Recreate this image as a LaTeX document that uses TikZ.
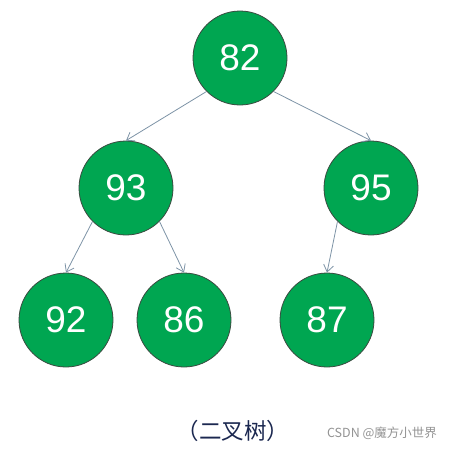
\documentclass[tikz,border=0pt]{standalone}
\usepackage{fontspec}
\setmainfont{Liberation Sans}
\newfontfamily\cjkfont{Noto Sans CJK SC}
\usepackage{tikz}
\usetikzlibrary{arrows.meta,
                positioning}

\definecolor{nodegreen}{HTML}{00A651}
\definecolor{rimgray}{HTML}{3A4A40}
\definecolor{edgegray}{HTML}{7D93A6}
\definecolor{capblue}{HTML}{1B2850}

\begin{document}
\begin{tikzpicture}[x=1pt,y=-1pt,
  treenode/.style={circle,draw=rimgray,line width=0.8pt,fill=nodegreen,
    minimum size=94pt,inner sep=0pt,text=white,font=\fontsize{37}{37}\selectfont},
  treeedge/.style={draw=edgegray,line width=0.8pt,
    -{Straight Barb[length=7pt,width=10pt]}}]
\useasboundingbox (0,0) rectangle (454,450);

\node[treenode] (n82) at (240,58) {82};
\node[treenode] (n93) at (126,188) {93};
\node[treenode] (n95) at (371,188) {95};
\node[treenode] (n92) at (66,320) {92};
\node[treenode] (n86) at (184,320) {86};
\node[treenode] (n87) at (327,320) {87};

\foreach \a/\b/\s in {n82/n93/225,n82/n95/-45,n93/n92/225,n93/n86/-45,n95/n87/-135}
  \draw[treeedge] (\a.\s) -- (\b.north);

\node[text=capblue,font=\cjkfont\fontsize{22.5}{22.5}\selectfont] (caption) at (233,431) {（二叉树）};
\node[text=gray!85,font=\cjkfont\fontsize{12.5}{12.5}\selectfont] (mark) at (382,433) {CSDN @魔方小世界};
\end{tikzpicture}
\end{document}
